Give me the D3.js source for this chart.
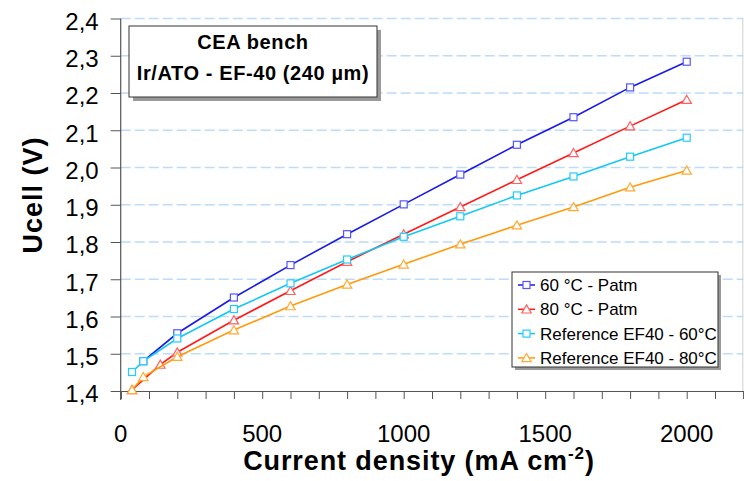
<!DOCTYPE html>
<html>
<head>
<meta charset="utf-8">
<script src="https://cdn.jsdelivr.net/npm/d3@7"></script>
<style>
  body { margin: 0; background: #fff; }
  svg { display: block; font-family: "Liberation Sans", Arial, sans-serif; }
</style>
</head>
<body>
<svg width="744" height="481"></svg>
<script>
// current density (mA cm-2) and cell voltage (V)
const xBlue = [80, 200, 400, 600, 800, 1000, 1200, 1400, 1600, 1800, 2000];
const yBlue = [1.480, 1.555, 1.651, 1.738, 1.821, 1.901, 1.981, 2.061, 2.135, 2.215, 2.284];
const xRed = [40, 140, 200, 400, 600, 800, 1000, 1200, 1400, 1600, 1800, 2000];
const yRed = [1.403, 1.471, 1.504, 1.590, 1.669, 1.747, 1.821, 1.894, 1.967, 2.039, 2.111, 2.182];
const xRef = [40, 80, 200, 400, 600, 800, 1000, 1200, 1400, 1600, 1800, 2000];
const yRef60 = [1.451, 1.480, 1.541, 1.620, 1.689, 1.753, 1.814, 1.869, 1.925, 1.976, 2.029, 2.080];
const yRef80 = [1.403, 1.438, 1.492, 1.5635, 1.628, 1.686, 1.740, 1.794, 1.845, 1.894, 1.947, 1.992];

const seriesNames = ["60 °C - Patm", "80 °C - Patm", "Reference EF40 - 60°C", "Reference EF40 - 80°C"];
const xTickLabels = [0, 500, 1000, 1500, 2000];
const yTickLabels = [1.4, 1.5, 1.6, 1.7, 1.8, 1.9, 2.0, 2.1, 2.2, 2.3, 2.4];

const series = [
  { name: seriesNames[0], xs: xBlue, ys: yBlue, color: "#1a1ae6", mark: "#5555ff", shape: "square" },
  { name: seriesNames[1], xs: xRed, ys: yRed, color: "#ff1a1a", mark: "#ff6060", shape: "triangle" },
  { name: seriesNames[2], xs: xRef, ys: yRef60, color: "#12c8f5", mark: "#22ccff", shape: "square" },
  { name: seriesNames[3], xs: xRef, ys: yRef80, color: "#ff9a0a", mark: "#ffaa33", shape: "triangle" }
];

const svg = d3.select("svg");
const plotL = 120.7, plotR = 743.3, plotT = 18.5, plotB = 391;

const x = d3.scaleLinear().domain([0, 2200]).range([plotL, plotR]);
const y = d3.scaleLinear().domain([1.4, 2.4]).range([plotB, plotT]);

// dashed gridlines
svg.append("g")
  .selectAll("line")
  .data(yTickLabels.slice(1))
  .join("line")
  .attr("x1", plotL).attr("x2", plotR)
  .attr("y1", d => y(d)).attr("y2", d => y(d))
  .attr("stroke", "#bcdcfa")
  .attr("stroke-width", 1.3)
  .attr("stroke-dasharray", "10,4");

// right border of plot
svg.append("line")
  .attr("x1", plotR - 0.5).attr("x2", plotR - 0.5)
  .attr("y1", plotT).attr("y2", plotB)
  .attr("stroke", "#cfcfcf");

// x axis
const xAxis = svg.append("g")
  .attr("transform", `translate(0,${plotB})`)
  .call(d3.axisBottom(x).tickValues(d3.range(0, 2201, 100)).tickSize(8).tickFormat(""));
xAxis.select(".domain").attr("stroke", "#555").attr("stroke-width", 1.2);
xAxis.selectAll(".tick line").attr("stroke", "#555");

svg.append("g")
  .selectAll("text")
  .data(xTickLabels)
  .join("text")
  .attr("x", d => x(d))
  .attr("y", 442)
  .attr("text-anchor", "middle")
  .attr("font-size", 24)
  .attr("fill", "#000")
  .text(d => d);

// y axis
const yAxis = svg.append("g")
  .attr("transform", `translate(${plotL},0)`)
  .call(d3.axisLeft(y).tickValues(yTickLabels).tickSize(10).tickPadding(12)
    .tickFormat(d => d3.format(".1f")(d).replace(".", ",")));
yAxis.select(".domain").attr("stroke", "#555").attr("stroke-width", 1.2).attr("d", `M0,${plotT}V${plotB + 9}`);
yAxis.selectAll(".tick line").attr("stroke", "#555");
yAxis.selectAll(".tick text").attr("font-size", 24).attr("fill", "#000").attr("dy", "0.45em")
  .attr("font-family", "Liberation Sans, Arial, sans-serif");

// axis titles
const xTitle = svg.append("text")
  .attr("x", 419).attr("y", 470)
  .attr("text-anchor", "middle")
  .attr("font-size", 27).attr("font-weight", "bold")
  .attr("letter-spacing", 0.9);
xTitle.append("tspan").text("Current density (mA cm");
xTitle.append("tspan").attr("font-size", 17).attr("dy", -11).text("-2");
xTitle.append("tspan").attr("dy", 11).text(")");

svg.append("text")
  .attr("transform", "translate(42,195) rotate(-90)")
  .attr("text-anchor", "middle")
  .attr("font-size", 27).attr("font-weight", "bold")
  .attr("letter-spacing", 1)
  .text("Ucell (V)");

// lines and markers
const line = d3.line().x(d => x(d[0])).y(d => y(d[1]));
const tri = d3.symbol().type(d3.symbolTriangle).size(38);

function drawMarker(g, s, px, py) {
  if (s.shape === "square") {
    g.append("rect")
      .attr("x", px - 3.5).attr("y", py - 3.5)
      .attr("width", 7).attr("height", 7)
      .attr("fill", "#fff").attr("stroke", s.mark).attr("stroke-width", 1.2);
  } else {
    g.append("path")
      .attr("d", tri())
      .attr("transform", `translate(${px},${py + 1})`)
      .attr("fill", "#fff").attr("stroke", s.mark).attr("stroke-width", 1.2);
  }
}

series.forEach(s => {
  const pts = s.xs.map((v, i) => [v, s.ys[i]]);
  svg.append("path")
    .attr("d", line(pts))
    .attr("fill", "none")
    .attr("stroke", s.color)
    .attr("stroke-width", 1.6);
  const g = svg.append("g");
  pts.forEach(p => drawMarker(g, s, x(p[0]), y(p[1])));
});

// title box
const tb = { x: 129, y: 26, w: 248, h: 71 };
svg.append("rect").attr("x", tb.x + 4).attr("y", tb.y + 4).attr("width", tb.w).attr("height", tb.h).attr("fill", "#9a9a9a");
svg.append("rect").attr("x", tb.x).attr("y", tb.y).attr("width", tb.w).attr("height", tb.h)
  .attr("fill", "#fff").attr("stroke", "#333").attr("stroke-width", 1);
svg.append("text").attr("x", tb.x + tb.w / 2).attr("y", 48.5)
  .attr("text-anchor", "middle").attr("font-size", 20).attr("font-weight", "bold")
  .attr("letter-spacing", 0.6)
  .text("CEA bench");
svg.append("text").attr("x", tb.x + tb.w / 2).attr("y", 79.5)
  .attr("text-anchor", "middle").attr("font-size", 20).attr("font-weight", "bold")
  .attr("letter-spacing", 0.6)
  .text("Ir/ATO - EF-40 (240 µm)");

// legend
const lg = { x: 512, y: 272, w: 206, h: 95 };
svg.append("rect").attr("x", lg.x + 3).attr("y", lg.y + 3).attr("width", lg.w).attr("height", lg.h).attr("fill", "#9a9a9a");
svg.append("rect").attr("x", lg.x).attr("y", lg.y).attr("width", lg.w).attr("height", lg.h)
  .attr("fill", "#fff").attr("stroke", "#333").attr("stroke-width", 1);
series.forEach((s, i) => {
  const cy = 285 + i * 24.3;
  const g = svg.append("g");
  g.append("line").attr("x1", 518).attr("x2", 535).attr("y1", cy).attr("y2", cy)
    .attr("stroke", s.color).attr("stroke-width", 1.5);
  drawMarker(g, s, 526.5, cy);
  g.append("text").attr("x", 540).attr("y", cy + 6)
    .attr("font-size", 17).text(s.name);
});
</script>
</body>
</html>
